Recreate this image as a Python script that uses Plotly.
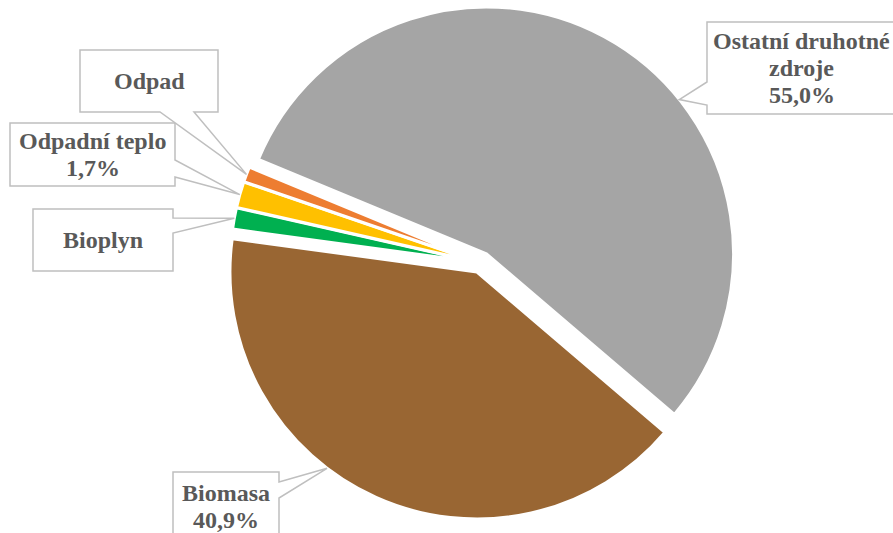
import math
import plotly.graph_objects as go

# Slice data (clockwise from the start angle)
labels = ["Ostatní druhotné zdroje", "Biomasa", "Bioplyn", "Odpadní teplo", "Odpad"]
shares = [55.0, 40.9, 1.4, 1.7, 1.0]
show_pct = [True, True, False, True, False]
label_lines = [["Ostatní druhotné", "zdroje"], ["Biomasa"], ["Bioplyn"], ["Odpadní teplo"], ["Odpad"]]

colors = ["#A5A5A5", "#996633", "#00B050", "#FFC000", "#ED7D31"]
pulls = [0.043, 0.04, 0.015, 0.015, 0.015]
anchor_frac = [0.6, 0.59, 0.5, 0.5, 0.5]  # where each callout points inside its slice

W, H = 893, 533
CX, CY, R = 481, 263, 247
START = 292.5  # degrees clockwise from 12 o'clock

# Callout boxes in pixels: (x0, y0, x1, y1), side of the pointer, pointer base span
boxes = [
    dict(box=(707, 22, 896, 114), side="left", base=(82, 105)),
    dict(box=(173, 472, 279, 540), side="right", base=(482, 498)),
    dict(box=(33, 209, 173, 271), side="right", base=(218, 233)),
    dict(box=(10, 123, 175, 186), side="right", base=(160, 177)),
    dict(box=(80, 50, 218, 112), side="bottom", base=(160, 194)),
]

FONT = dict(family="Liberation Serif, Times New Roman, serif", size=24, color="#595959")
LINE_GAP = 27


def px(x, y):
    return x / W, 1 - y / H


def fmt_pct(v):
    return f"{v:.1f}%".replace(".", ",")


half = R * (1 + max(pulls))
x0d, y0d = px(CX - half, CY + half)
x1d, y1d = px(CX + half, CY - half)

fig = go.Figure(go.Pie(
    labels=labels,
    values=shares,
    sort=False,
    direction="clockwise",
    rotation=START - 360,
    pull=pulls,
    marker=dict(colors=colors, line=dict(color="white", width=3)),
    textinfo="none",
    hoverinfo="label+percent",
    domain=dict(x=[x0d, x1d], y=[y0d, y1d]),
))

total = sum(shares)
shapes, annotations = [], []
angle = START
for i, v in enumerate(shares):
    span = 360 * v / total
    mid = math.radians(angle + span / 2)
    a = math.radians(angle + span * anchor_frac[i])
    ox = CX + pulls[i] * R * math.sin(mid)
    oy = CY - pulls[i] * R * math.cos(mid)
    tx = ox + R * math.sin(a)
    ty = oy - R * math.cos(a)
    angle += span

    b = boxes[i]
    bx0, by0, bx1, by1 = b["box"]
    pa, pb = b["base"]
    if b["side"] == "right":
        pts = [(bx0, by0), (bx1, by0), (bx1, pa), (tx, ty), (bx1, pb), (bx1, by1), (bx0, by1)]
    elif b["side"] == "left":
        pts = [(bx0, by0), (bx1, by0), (bx1, by1), (bx0, by1), (bx0, pb), (tx, ty), (bx0, pa)]
    else:
        pts = [(bx0, by0), (bx1, by0), (bx1, by1), (pb, by1), (tx, ty), (pa, by1), (bx0, by1)]
    path = "M " + " L ".join(f"{px(x, y)[0]:.5f},{px(x, y)[1]:.5f}" for x, y in pts) + " Z"
    shapes.append(dict(type="path", path=path, xref="paper", yref="paper",
                       fillcolor="white", line=dict(color="#BFBFBF", width=1.5), layer="above"))

    lines = list(label_lines[i]) + ([fmt_pct(v)] if show_pct[i] else [])
    ccx = (bx0 + bx1) / 2
    ccy = (by0 + min(by1, H + 7)) / 2
    for k, line in enumerate(lines):
        ly = ccy + (k - (len(lines) - 1) / 2) * LINE_GAP
        lx, lyp = px(ccx, ly)
        annotations.append(dict(text=f"<b>{line}</b>", x=lx, y=lyp, xref="paper", yref="paper",
                                xanchor="center", yanchor="middle", showarrow=False, font=FONT))

fig.update_layout(
    width=W, height=H,
    margin=dict(l=0, r=0, t=0, b=0),
    paper_bgcolor="white", plot_bgcolor="white",
    showlegend=False,
    shapes=shapes,
    annotations=annotations,
)

fig.write_html("out.html")
